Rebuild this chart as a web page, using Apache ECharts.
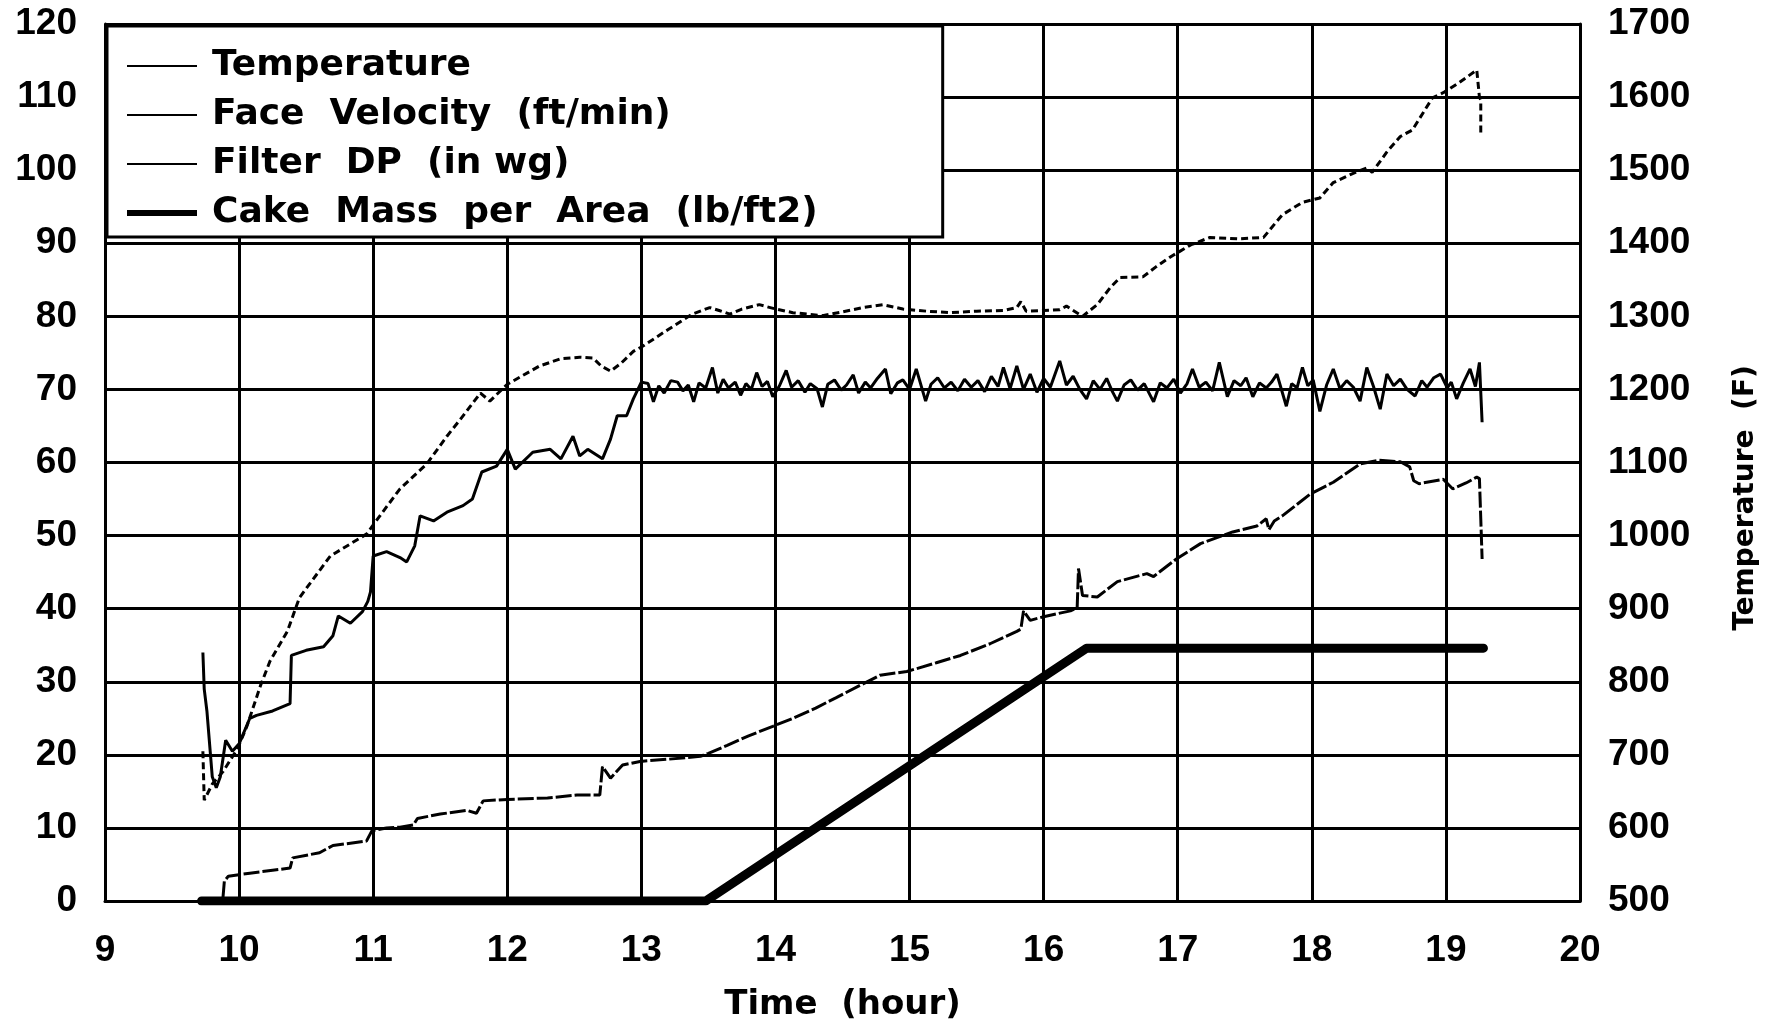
<!DOCTYPE html>
<html>
<head>
<meta charset="utf-8">
<title>Temperature, Face Velocity, Filter DP, Cake Mass</title>
<script src="https://cdn.jsdelivr.net/npm/echarts/dist/echarts.min.js"></script>
<style>
  html, body { margin: 0; padding: 0; background: #fff; }
  #chart { width: 1781px; height: 1027px; }
</style>
</head>
<body>
<div id="chart"></div>
<script>
// [hour, deg F]  (right axis)
var temperature = [
  [9.73, 705], [9.74, 638], [9.8, 660], [9.88, 677], [9.99, 709], [10.06, 740],
  [10.16, 795], [10.23, 828], [10.36, 869], [10.45, 915], [10.68, 972], [10.95, 1002],
  [11.05, 1027], [11.2, 1064], [11.4, 1098], [11.55, 1136], [11.65, 1159], [11.8, 1195],
  [11.87, 1184], [12.0, 1207], [12.24, 1232], [12.4, 1242], [12.54, 1244], [12.64, 1243],
  [12.7, 1232], [12.77, 1225], [12.85, 1236], [12.94, 1252], [13.0, 1258], [13.2, 1282],
  [13.38, 1303], [13.51, 1312], [13.58, 1308], [13.66, 1303], [13.75, 1310], [13.88, 1316],
  [14.0, 1310], [14.13, 1305], [14.35, 1301], [14.5, 1306], [14.65, 1312], [14.8, 1316],
  [14.95, 1310], [15.13, 1307], [15.3, 1305], [15.5, 1307], [15.7, 1308], [15.8, 1312],
  [15.83, 1320], [15.87, 1307], [16.0, 1308], [16.12, 1309], [16.17, 1314], [16.29, 1300],
  [16.4, 1316], [16.5, 1340], [16.57, 1353], [16.74, 1354], [16.84, 1368], [16.96, 1383],
  [17.1, 1398], [17.24, 1408], [17.45, 1406], [17.64, 1408], [17.78, 1439], [17.93, 1456],
  [18.06, 1462], [18.16, 1483], [18.3, 1495], [18.41, 1503], [18.45, 1497], [18.56, 1525],
  [18.66, 1546], [18.75, 1555], [18.9, 1599], [18.98, 1606], [19.1, 1620], [19.23, 1637],
  [19.25, 1600], [19.26, 1596], [19.26, 1548]
];

// [hour, ft/min]
var faceVelocity = [
  [9.73, 34.0], [9.74, 29.0], [9.76, 26.0], [9.8, 17.0], [9.83, 15.5], [9.86, 17.0],
  [9.9, 22.0], [9.95, 20.5], [10.0, 21.5], [10.08, 25.0], [10.13, 25.4], [10.25, 26.0],
  [10.38, 27.0], [10.39, 33.6], [10.5, 34.3], [10.63, 34.8], [10.7, 36.3], [10.74, 39.0],
  [10.83, 38.0], [10.92, 39.6], [10.96, 41.0], [10.98, 42.3], [11.0, 47.2], [11.1, 47.8],
  [11.2, 47.0], [11.25, 46.4], [11.31, 48.6], [11.35, 52.7], [11.45, 52.0], [11.55, 53.2],
  [11.67, 54.1], [11.74, 55.0], [11.81, 58.7], [11.92, 59.5], [12.0, 61.8], [12.06, 59.1],
  [12.19, 61.4], [12.32, 61.8], [12.4, 60.5], [12.49, 63.6], [12.54, 60.9], [12.6, 61.8],
  [12.71, 60.5], [12.77, 63.2], [12.82, 66.4], [12.89, 66.4], [12.94, 68.7], [13.0, 71.0],
  [13.05, 70.8], [13.09, 68.3], [13.13, 70.5], [13.17, 69.5], [13.22, 71.2], [13.27, 71.0],
  [13.31, 69.8], [13.35, 70.6], [13.39, 68.3], [13.43, 70.9], [13.48, 70.2], [13.53, 73.0],
  [13.57, 69.5], [13.61, 71.4], [13.65, 70.2], [13.7, 71.0], [13.74, 69.2], [13.78, 70.8],
  [13.82, 70.0], [13.86, 72.3], [13.9, 70.4], [13.94, 71.1], [13.98, 69.0], [14.03, 70.5],
  [14.08, 72.6], [14.12, 70.3], [14.17, 71.2], [14.22, 69.6], [14.26, 70.8], [14.31, 70.1],
  [14.35, 67.6], [14.39, 70.7], [14.44, 71.3], [14.49, 69.9], [14.53, 70.6], [14.58, 72.0],
  [14.62, 69.5], [14.67, 71.0], [14.71, 70.2], [14.76, 71.5], [14.82, 72.8], [14.86, 69.4],
  [14.91, 70.9], [14.95, 71.3], [15.0, 70.0], [15.05, 72.8], [15.12, 68.4], [15.16, 70.7],
  [15.21, 71.6], [15.26, 70.2], [15.31, 71.0], [15.36, 69.8], [15.41, 71.4], [15.46, 70.3],
  [15.51, 71.2], [15.56, 69.7], [15.61, 71.8], [15.66, 70.4], [15.7, 73.0], [15.75, 70.1],
  [15.8, 73.2], [15.85, 70.0], [15.9, 72.1], [15.95, 69.6], [16.0, 71.5], [16.05, 70.3],
  [16.12, 73.9], [16.17, 70.6], [16.22, 71.8], [16.27, 70.0], [16.32, 68.7], [16.37, 71.2],
  [16.42, 70.0], [16.47, 71.5], [16.51, 69.8], [16.55, 68.4], [16.6, 70.6], [16.65, 71.3],
  [16.7, 69.9], [16.75, 70.8], [16.82, 68.3], [16.87, 70.9], [16.92, 70.2], [16.97, 71.4],
  [17.02, 69.5], [17.07, 70.8], [17.11, 72.8], [17.16, 70.3], [17.21, 71.0], [17.26, 69.8],
  [17.31, 73.7], [17.37, 69.0], [17.42, 71.2], [17.47, 70.5], [17.51, 71.6], [17.56, 69.0],
  [17.61, 70.9], [17.66, 70.2], [17.7, 71.0], [17.74, 72.1], [17.81, 67.7], [17.85, 70.8],
  [17.89, 70.2], [17.93, 73.0], [17.97, 70.5], [18.01, 71.3], [18.06, 67.0], [18.11, 70.6],
  [18.16, 72.8], [18.21, 70.1], [18.26, 71.2], [18.31, 70.3], [18.36, 68.4], [18.41, 73.0],
  [18.46, 70.4], [18.51, 67.3], [18.56, 72.1], [18.61, 70.5], [18.66, 71.4], [18.71, 70.0],
  [18.77, 69.1], [18.82, 71.2], [18.86, 70.3], [18.91, 71.6], [18.96, 72.1], [19.01, 70.2],
  [19.04, 71.0], [19.08, 68.7], [19.13, 70.9], [19.18, 72.8], [19.22, 70.4], [19.25, 73.7],
  [19.27, 65.5]
];

// [hour, in wg]
var filterDP = [
  [9.88, 0.5], [9.89, 2.7], [9.92, 3.4], [10.08, 3.8], [10.25, 4.2], [10.38, 4.5],
  [10.4, 5.9], [10.6, 6.6], [10.7, 7.6], [10.95, 8.2], [10.99, 9.6], [11.1, 10.0],
  [11.2, 10.1], [11.3, 10.4], [11.33, 11.3], [11.5, 11.9], [11.7, 12.4], [11.77, 12.0],
  [11.82, 13.7], [12.0, 13.9], [12.3, 14.1], [12.52, 14.5], [12.69, 14.5], [12.71, 18.4],
  [12.77, 16.8], [12.86, 18.6], [12.99, 19.1], [13.2, 19.4], [13.44, 19.8], [13.5, 20.2],
  [13.64, 21.3], [13.8, 22.6], [13.98, 23.9], [14.13, 25.0], [14.3, 26.4], [14.45, 27.8],
  [14.63, 29.5], [14.78, 30.9], [14.98, 31.4], [15.2, 32.6], [15.38, 33.6], [15.6, 35.2],
  [15.8, 36.9], [15.83, 37.2], [15.85, 39.7], [15.9, 38.4], [16.0, 38.9], [16.2, 39.7],
  [16.25, 40.1], [16.26, 45.5], [16.29, 41.8], [16.4, 41.6], [16.55, 43.7], [16.77, 44.8],
  [16.82, 44.4], [16.99, 46.8], [17.17, 48.9], [17.41, 50.5], [17.59, 51.3], [17.66, 52.3],
  [17.68, 50.8], [17.72, 52.0], [17.78, 52.7], [17.99, 55.7], [18.16, 57.3], [18.36, 59.8],
  [18.5, 60.3], [18.66, 60.1], [18.73, 59.4], [18.76, 57.5], [18.8, 57.1], [18.98, 57.7],
  [19.05, 56.4], [19.15, 57.2], [19.23, 58.0], [19.25, 57.8], [19.26, 52.3], [19.27, 46.8]
];

// [hour, lb/ft2]
var cakeMass = [[9.72, 0], [13.48, 0], [16.32, 34.6], [19.28, 34.6]];

var legendNames = ['Temperature', 'Face  Velocity  (ft/min)', 'Filter  DP  (in wg)', 'Cake  Mass  per  Area  (lb/ft2)'];

var fontTick = 'Liberation Sans, Arial, sans-serif';
var fontText = 'DejaVu Sans, sans-serif';

var chart = echarts.init(document.getElementById('chart'));

var gridLine = { show: true, lineStyle: { color: '#000', width: 3 } };
var axisLine = { show: true, lineStyle: { color: '#000', width: 3 } };
var tickFont = { fontFamily: fontTick, fontWeight: 'bold', fontSize: 37, color: '#000' };

chart.setOption({
  animation: false,
  backgroundColor: '#fff',
  grid: { left: 105, right: 201, top: 24, bottom: 124 },
  legend: {
    orient: 'vertical',
    left: 107,
    top: 26,
    padding: [20, 125, 4, 20],
    itemGap: 9,
    itemWidth: 70,
    itemHeight: 14,
    backgroundColor: '#fff',
    borderColor: '#000',
    borderWidth: 3,
    textStyle: {
      fontFamily: fontText,
      fontWeight: 'bold',
      fontSize: 36,
      color: '#000',
      lineHeight: 40,
      padding: [0, 0, 0, 10]
    },
    data: [
      { name: legendNames[0], icon: 'path://M0,6H70V8H0Z', itemStyle: { color: '#000' } },
      { name: legendNames[1], icon: 'path://M0,6H70V8H0Z', itemStyle: { color: '#000' } },
      { name: legendNames[2], icon: 'path://M0,6H70V8H0Z', itemStyle: { color: '#000' } },
      { name: legendNames[3], icon: 'path://M0,4H70V10H0Z', itemStyle: { color: '#000' } }
    ]
  },
  graphic: [{
    type: 'text',
    x: 1746,
    y: 498,
    rotation: Math.PI / 2,
    style: {
      text: 'Temperature  (F)',
      font: 'bold 28px DejaVu Sans, sans-serif',
      fill: '#000',
      align: 'center',
      verticalAlign: 'middle'
    }
  }],
  xAxis: {
    type: 'value',
    min: 9,
    max: 20,
    interval: 1,
    name: 'Time  (hour)',
    nameLocation: 'middle',
    nameGap: 87,
    nameTextStyle: { fontFamily: fontText, fontWeight: 'bold', fontSize: 34, color: '#000' },
    axisLine: axisLine,
    axisTick: { show: false },
    splitLine: gridLine,
    axisLabel: Object.assign({ margin: 31 }, tickFont)
  },
  yAxis: [{
    type: 'value',
    min: 0,
    max: 120,
    interval: 10,
    axisLine: axisLine,
    axisTick: { show: false },
    splitLine: gridLine,
    axisLabel: Object.assign({ margin: 28 }, tickFont)
  }, {
    type: 'value',
    position: 'right',
    min: 500,
    max: 1700,
    interval: 100,
    axisLine: axisLine,
    axisTick: { show: false },
    splitLine: { show: false },
    axisLabel: Object.assign({
      margin: 28,
      formatter: function (v) { return String(v); }
    }, tickFont)
  }],
  series: [{
    name: legendNames[0],
    type: 'line',
    yAxisIndex: 1,
    symbol: 'none',
    data: temperature,
    lineStyle: { color: '#000', width: 3, type: [7, 4] },
    itemStyle: { color: '#000' },
    z: 3
  }, {
    name: legendNames[1],
    type: 'line',
    symbol: 'none',
    data: faceVelocity,
    lineStyle: { color: '#000', width: 3 },
    itemStyle: { color: '#000' },
    z: 3
  }, {
    name: legendNames[2],
    type: 'line',
    symbol: 'none',
    data: filterDP,
    lineStyle: { color: '#000', width: 3, type: [16, 3] },
    itemStyle: { color: '#000' },
    z: 3
  }, {
    name: legendNames[3],
    type: 'line',
    symbol: 'none',
    data: cakeMass,
    lineStyle: { color: '#000', width: 9, cap: 'round', join: 'round' },
    itemStyle: { color: '#000' },
    z: 4
  }]
});

window.addEventListener('resize', function () {
  chart.resize();
});
</script>
</body>
</html>
